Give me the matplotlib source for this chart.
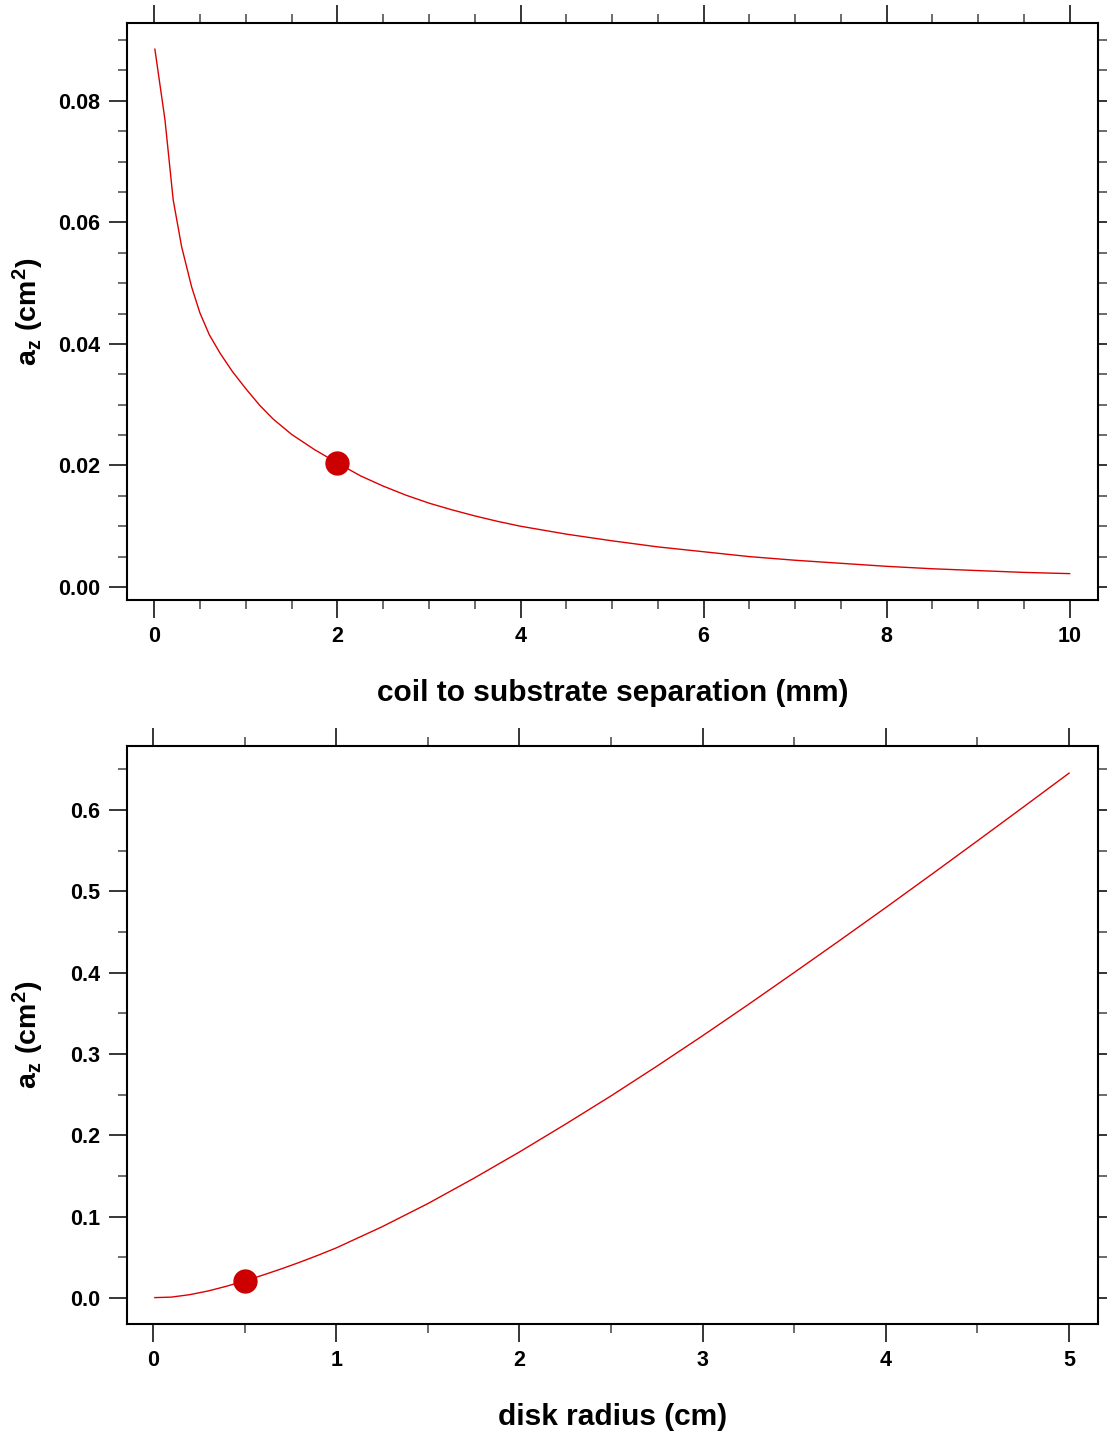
import matplotlib
matplotlib.use('Agg')
import matplotlib.pyplot as plt
from matplotlib.ticker import MultipleLocator, FormatStrFormatter

plt.rcParams['font.family'] = ['Liberation Sans', 'DejaVu Sans']
plt.rcParams['font.weight'] = 'bold'
plt.rcParams['mathtext.fontset'] = 'custom'
plt.rcParams['mathtext.rm'] = 'Liberation Sans:bold'
plt.rcParams['mathtext.bf'] = 'Liberation Sans:bold'
plt.rcParams['mathtext.it'] = 'Liberation Sans:bold'

# top panel: a_z vs coil to substrate separation (mm)
sep_mm = [0.005, 0.115, 0.205, 0.297, 0.406, 0.497, 0.6, 0.716, 0.85, 1.0, 1.15, 1.3, 1.5, 1.75,
          2.0, 2.25, 2.5, 2.75, 3.0, 3.25, 3.5, 3.75, 4.0, 4.5, 5.0, 5.5, 6.0, 6.5, 7.0,
          7.5, 8.0, 8.5, 9.0, 9.5, 10.0]
az_sep = [0.0885, 0.0769, 0.0637, 0.0560, 0.0494, 0.0451, 0.0415, 0.0385, 0.0355, 0.0326, 0.0299, 0.0276, 0.0251, 0.0226,
          0.0204, 0.0183, 0.0166, 0.0151, 0.0138, 0.0127, 0.0117, 0.0108, 0.0100, 0.0087, 0.0076, 0.0066, 0.0058, 0.0050, 0.0044,
          0.0039, 0.0034, 0.0030, 0.0027, 0.0024, 0.0022]
sep_point = (2.0, 0.0204)

# bottom panel: a_z vs disk radius (cm)
radius_cm = [0.01, 0.1, 0.2, 0.3, 0.4, 0.5, 0.6, 0.7, 0.8, 0.9, 1.0, 1.25, 1.5, 1.75, 2.0,
             2.25, 2.5, 2.75, 3.0, 3.25, 3.5, 3.75, 4.0, 4.25, 4.5, 4.75, 5.0]
az_rad = [0.0004, 0.0010, 0.0040, 0.0085, 0.0143, 0.0209, 0.0281, 0.0357, 0.0438, 0.0524, 0.0615, 0.0875, 0.1160, 0.1470, 0.1795,
          0.2135, 0.2485, 0.2850, 0.3225, 0.3610, 0.4003, 0.4400, 0.4802, 0.5210, 0.5622, 0.6037, 0.6455]
rad_point = (0.5, 0.0209)

line_col = '#dd0000'
dot_col = '#cc0000'

fig = plt.figure(figsize=(11.07, 14.33), dpi=100)
ax1 = fig.add_axes([0.1147, 0.5813, 0.8772, 0.4026])
ax2 = fig.add_axes([0.1147, 0.0761, 0.8772, 0.4034])


def style(ax, xmaj, xmin, ymaj, ymin, yfmt):
    ax.xaxis.set_major_locator(MultipleLocator(xmaj))
    ax.xaxis.set_minor_locator(MultipleLocator(xmin))
    ax.yaxis.set_major_locator(MultipleLocator(ymaj))
    ax.yaxis.set_minor_locator(MultipleLocator(ymin))
    ax.yaxis.set_major_formatter(FormatStrFormatter(yfmt))
    ax.tick_params(which='both', direction='out', top=True, right=True, labelsize=15.5, width=1.1)
    ax.tick_params(which='major', length=13, pad=6)
    ax.tick_params(which='minor', length=6.5, color='#444444')
    for s in ax.spines.values():
        s.set_linewidth(1.5)
    for lab in ax.get_xticklabels() + ax.get_yticklabels():
        lab.set_fontweight('bold')


ax1.plot(sep_mm, az_sep, color=line_col, lw=1.0)
ax1.plot(*sep_point, 'o', color=dot_col, ms=16.5)
ax1.set_xlim(-0.30, 10.31)
ax1.set_ylim(-0.00214, 0.0928)
style(ax1, 2, 0.5, 0.02, 0.005, '%.2f')
ax1.set_xlabel('coil to substrate separation (mm)', fontsize=21.5, fontweight='bold', labelpad=23)
ax1.set_ylabel(r'$\mathbf{a_z\ (cm^2)}$', fontsize=20.5)
ax1.yaxis.set_label_coords(-0.083, 0.5)

ax2.plot(radius_cm, az_rad, color=line_col, lw=1.0)
ax2.plot(*rad_point, 'o', color=dot_col, ms=16.5)
ax2.set_xlim(-0.142, 5.158)
ax2.set_ylim(-0.032, 0.679)
style(ax2, 1, 0.5, 0.1, 0.05, '%.1f')
ax2.set_xlabel('disk radius (cm)', fontsize=21.5, fontweight='bold', labelpad=23)
ax2.set_ylabel(r'$\mathbf{a_z\ (cm^2)}$', fontsize=20.5)
ax2.yaxis.set_label_coords(-0.083, 0.5)

fig.savefig('out.png', dpi=100)
